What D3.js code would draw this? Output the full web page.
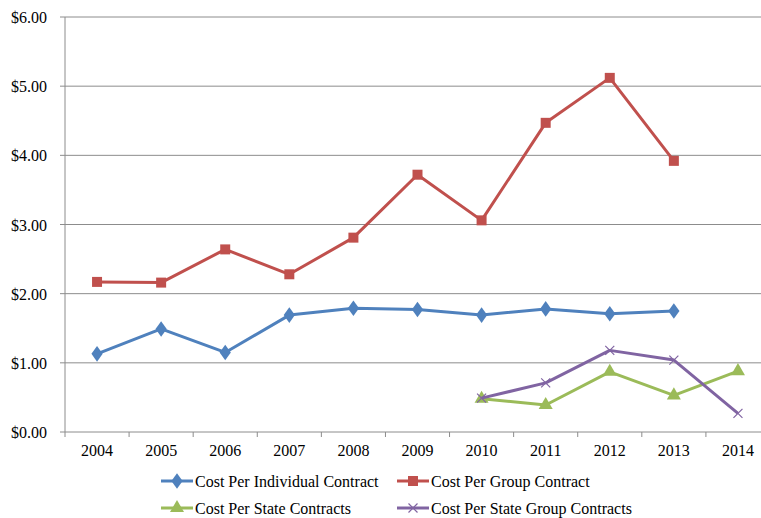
<!DOCTYPE html>
<html>
<head>
<meta charset="utf-8">
<script src="https://cdn.jsdelivr.net/npm/d3@7"></script>
<style>
  body { margin: 0; background: #fff; }
  text { font-family: "Liberation Serif", "DejaVu Serif", serif; font-size: 16px; fill: #000; }
</style>
</head>
<body>
<svg id="chart" width="761" height="518"></svg>
<script>
// values
const years = ['2004', '2005', '2006', '2007', '2008', '2009', '2010', '2011', '2012', '2013', '2014'];
const yTicks = [0, 1, 2, 3, 4, 5, 6];

const individual = [1.13, 1.49, 1.15, 1.69, 1.79, 1.77, 1.69, 1.78, 1.71, 1.75, null];
const group = [2.17, 2.16, 2.64, 2.28, 2.81, 3.72, 3.06, 4.47, 5.12, 3.92, null];
const stateContracts = [null, null, null, null, null, null, 0.48, 0.39, 0.87, 0.53, 0.88];
const stateGroup = [null, null, null, null, null, null, 0.49, 0.71, 1.18, 1.04, 0.27];

const series = [
  { name: 'Cost Per Individual Contract', values: individual, color: '#4F81BD', marker: 'diamond' },
  { name: 'Cost Per Group Contract', values: group, color: '#C0504D', marker: 'square' },
  { name: 'Cost Per State Contracts', values: stateContracts, color: '#9BBB59', marker: 'triangle' },
  { name: 'Cost Per State Group Contracts', values: stateGroup, color: '#8064A2', marker: 'x' }
];

const margin = { left: 65, top: 17, right: -9, bottom: 86 };
const width = 761 - margin.left - margin.right;
const height = 518 - margin.top - margin.bottom;

const svg = d3.select('#chart');
const g = svg.append('g').attr('transform', `translate(${margin.left},${margin.top})`);

const x = d3.scaleBand().domain(years).range([0, width]);
const y = d3.scaleLinear().domain([0, 6]).range([height, 0]);

// gridlines
g.append('g')
  .selectAll('line')
  .data(yTicks)
  .enter()
  .append('line')
  .attr('x1', -5)
  .attr('x2', width)
  .attr('y1', d => y(d))
  .attr('y2', d => y(d))
  .attr('stroke', '#8c8c8c')
  .attr('stroke-width', 1);

// y axis labels
const yAxis = g.append('g')
  .call(d3.axisLeft(y).tickValues(yTicks).tickSize(0).tickPadding(18).tickFormat(d => '$' + d.toFixed(2)));
yAxis.select('.domain').remove();
yAxis.selectAll('text').attr('font-size', 16).attr('font-family', null).attr('dy', '0.35em');

// axis lines
g.append('line')
  .attr('x1', 0).attr('x2', 0)
  .attr('y1', 0).attr('y2', height)
  .attr('stroke', '#8c8c8c');

const xAxis = g.append('g')
  .attr('transform', `translate(0,${height})`)
  .call(d3.axisBottom(x).tickSize(0).tickPadding(13));
xAxis.select('.domain').remove();
xAxis.selectAll('text').attr('font-size', 16).attr('font-family', null);
xAxis.selectAll('.xtick')
  .data(d3.range(years.length + 1))
  .enter()
  .append('line')
  .attr('x1', i => i * x.step())
  .attr('x2', i => i * x.step())
  .attr('y1', 0)
  .attr('y2', 5)
  .attr('stroke', '#8c8c8c');

const cx = (d, i) => x(years[i]) + x.bandwidth() / 2;

function drawMarker(sel, type, color, size) {
  if (type === 'x') {
    const s = size * 0.75;
    sel.append('path')
      .attr('d', `M${-s},${-s}L${s},${s}M${-s},${s}L${s},${-s}`)
      .attr('stroke', color)
      .attr('stroke-width', 1.2)
      .attr('fill', 'none');
    return;
  }
  const symType = { diamond: d3.symbolDiamond, square: d3.symbolSquare, triangle: d3.symbolTriangle }[type];
  const area = { diamond: 70, square: 100, triangle: 85 }[type];
  sel.append('path')
    .attr('d', d3.symbol().type(symType).size(area * size / 6)())
    .attr('transform', type === 'diamond' ? 'scale(1.25,1)' : null)
    .attr('fill', color);
}

series.forEach(s => {
  const line = d3.line()
    .defined(d => d != null)
    .x((d, i) => cx(d, i))
    .y(d => y(d));
  g.append('path')
    .datum(s.values)
    .attr('d', line)
    .attr('fill', 'none')
    .attr('stroke', s.color)
    .attr('stroke-width', 3)
    .attr('stroke-linejoin', 'round');

  s.values.forEach((v, i) => {
    if (v == null) return;
    const m = g.append('g').attr('transform', `translate(${cx(v, i)},${y(v)})`);
    drawMarker(m, s.marker, s.color, 6);
  });
});

// legend
const legendPos = [[161, 481], [397, 481], [161, 508], [397, 508]];
series.forEach((s, i) => {
  const lg = svg.append('g').attr('transform', `translate(${legendPos[i][0]},${legendPos[i][1]})`);
  lg.append('line')
    .attr('x1', 0).attr('x2', 32)
    .attr('y1', 0).attr('y2', 0)
    .attr('stroke', s.color)
    .attr('stroke-width', 3);
  const m = lg.append('g').attr('transform', 'translate(16,0)');
  drawMarker(m, s.marker, s.color, 6);
  lg.append('text')
    .attr('x', 34)
    .attr('dy', '0.35em')
    .text(s.name);
});
</script>
</body>
</html>
